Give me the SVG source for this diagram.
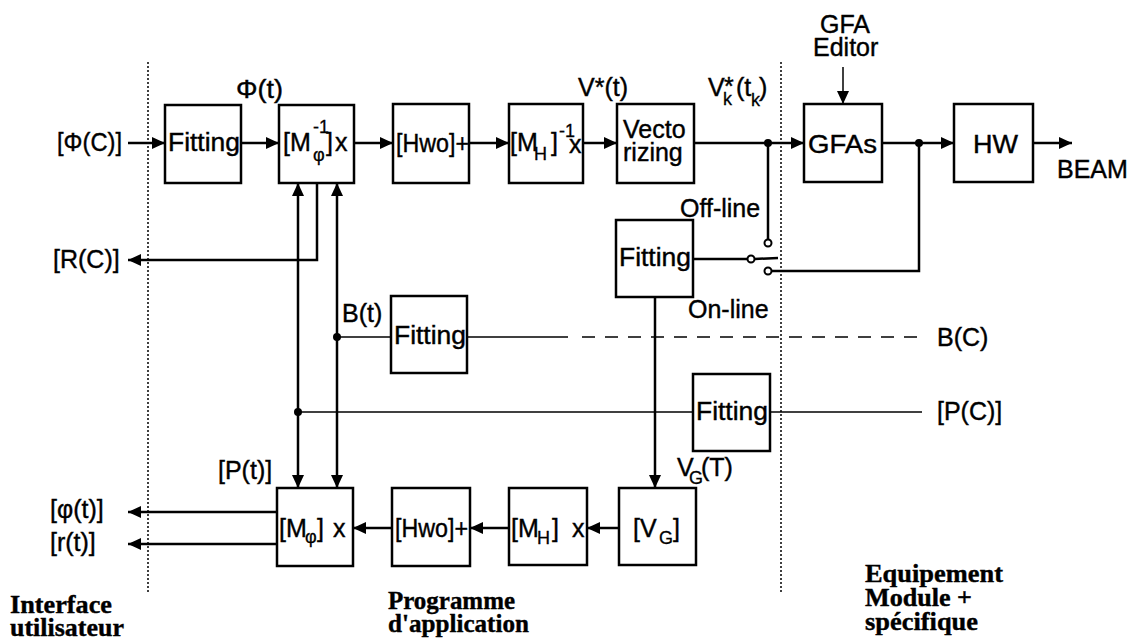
<svg xmlns="http://www.w3.org/2000/svg" width="1135" height="643" viewBox="0 0 1135 643">
<defs>
<marker id="ah" markerUnits="userSpaceOnUse" markerWidth="14" markerHeight="12" refX="13" refY="6" orient="auto-start-reverse">
<path d="M0,0 L13,6 L0,12 z" fill="#000"/>
</marker>
<style>
.box{fill:#fff;stroke:#000;stroke-width:2.5}
.t{font-family:"Liberation Sans",Arial,sans-serif;font-size:25px;fill:#000;stroke:#000;stroke-width:0.4}
.s{font-family:"Liberation Sans",Arial,sans-serif;font-size:18px;fill:#000;stroke:#000;stroke-width:0.3}
.b{font-family:"Liberation Serif","Times New Roman",serif;font-size:26px;font-weight:bold;fill:#000;stroke:#000;stroke-width:0.4}
.w{fill:none;stroke:#000;stroke-width:2.5}
.th{fill:none;stroke:#000;stroke-width:1.5}
.a{marker-end:url(#ah)}
.ab{marker-start:url(#ah);marker-end:url(#ah)}
.dot{fill:#000}
.ring{fill:#fff;stroke:#000;stroke-width:2}
.sep{fill:none;stroke:#000;stroke-width:1.5;stroke-dasharray:2 2}
</style>
</defs>
<rect width="1135" height="643" fill="#fff"/>

<g id="separators">
<line class="sep" x1="148" y1="62" x2="148" y2="592"/>
<line class="sep" x1="781" y1="62" x2="781" y2="592"/>
</g>

<g id="connectors">
<path class="w a" d="M128,143 H165"/>
<path class="w a" d="M241,143 H279"/>
<path class="w a" d="M354,143 H393"/>
<path class="w a" d="M469,143 H509"/>
<path class="w a" d="M583,143 H617"/>
<path class="w a" d="M694,143 H804"/>
<path class="w a" d="M882,143 H954"/>
<path class="w a" d="M1033,143 H1072"/>
<path class="th a" d="M843,67 V104"/>
<path class="w" d="M768,143 V239.5"/>
<path class="w" d="M693,259 H747.5"/>
<path class="w" d="M754.5,259 L778,258"/>
<path class="w" d="M771.5,271 H919 V143"/>
<path class="w a" d="M317,183 V260 H128"/>
<path class="w ab" d="M298,183 V488"/>
<path class="w ab" d="M337,183 V488"/>
<path class="th" d="M337,337 H391"/>
<path class="th" d="M467,337 H568"/>
<path class="th" d="M582,337 H920" stroke-dasharray="13 10"/>
<path class="th" d="M298,412 H693"/>
<path class="th" d="M770,412 H922"/>
<path class="w a" d="M655,297 V488"/>
<path class="w a" d="M619,528 H587"/>
<path class="w a" d="M509,528 H470"/>
<path class="w a" d="M392,528 H353"/>
<path class="w a" d="M277,512 H128"/>
<path class="w a" d="M277,544 H128"/>
<circle class="dot" cx="768" cy="143" r="4"/>
<circle class="dot" cx="919" cy="143" r="4"/>
<circle class="dot" cx="337" cy="337" r="4"/>
<circle class="dot" cx="298" cy="412" r="4"/>
<circle class="ring" cx="768" cy="243" r="3.5"/>
<circle class="ring" cx="751" cy="259" r="3.5"/>
<circle class="ring" cx="768" cy="271" r="3.5"/>
</g>

<g id="fitting-phi">
<rect class="box" x="165" y="105" width="76" height="78"/>
<text class="t" x="168" y="151" textLength="72" lengthAdjust="spacingAndGlyphs">Fitting</text>
</g>
<g id="mphi-inv">
<rect class="box" x="279" y="105" width="75" height="78"/>
<text class="t" x="283" y="151">[M</text>
<text class="s" x="313" y="133">-1</text>
<text class="s" x="313" y="161">φ</text>
<text class="t" x="326" y="151">]</text>
<text class="t" x="335" y="151">x</text>
</g>
<g id="hwo-top">
<rect class="box" x="393" y="104" width="76" height="79"/>
<text class="t" x="396" y="152" textLength="73" lengthAdjust="spacingAndGlyphs">[Hwo]+</text>
</g>
<g id="mh-inv">
<rect class="box" x="509" y="104" width="74" height="79"/>
<text class="t" x="510" y="151">[M</text>
<text class="s" x="534" y="160">H</text>
<text class="t" x="551" y="151">]</text>
<text class="s" x="559" y="137">-1</text>
<text class="t" x="569" y="153">x</text>
</g>
<g id="vectorizing">
<rect class="box" x="617" y="104" width="77" height="79"/>
<text class="t" x="623" y="138">Vecto</text>
<text class="t" x="623" y="161">rizing</text>
</g>
<g id="gfas">
<rect class="box" x="804" y="104" width="78" height="78"/>
<text class="t" x="808" y="153" textLength="69" lengthAdjust="spacingAndGlyphs">GFAs</text>
</g>
<g id="hw">
<rect class="box" x="954" y="104" width="79" height="78"/>
<text class="t" x="973" y="153" textLength="45" lengthAdjust="spacingAndGlyphs">HW</text>
</g>
<g id="fitting-offline">
<rect class="box" x="616" y="220" width="77" height="77"/>
<text class="t" x="619" y="266" textLength="72" lengthAdjust="spacingAndGlyphs">Fitting</text>
</g>
<g id="fitting-b">
<rect class="box" x="391" y="296" width="76" height="77"/>
<text class="t" x="394" y="344" textLength="72" lengthAdjust="spacingAndGlyphs">Fitting</text>
</g>
<g id="fitting-p">
<rect class="box" x="693" y="374" width="77" height="77"/>
<text class="t" x="696" y="420" textLength="72" lengthAdjust="spacingAndGlyphs">Fitting</text>
</g>
<g id="mphi">
<rect class="box" x="277" y="488" width="76" height="78"/>
<text class="t" x="279" y="537">[M</text>
<text class="s" x="305" y="543">φ</text>
<text class="t" x="317" y="537">]</text>
<text class="t" x="333" y="537">x</text>
</g>
<g id="hwo-bottom">
<rect class="box" x="392" y="488" width="78" height="78"/>
<text class="t" x="395" y="537" textLength="73" lengthAdjust="spacingAndGlyphs">[Hwo]+</text>
</g>
<g id="mh">
<rect class="box" x="509" y="488" width="78" height="77"/>
<text class="t" x="511" y="537">[M</text>
<text class="s" x="537" y="544">H</text>
<text class="t" x="552" y="537">]</text>
<text class="t" x="572" y="537">x</text>
</g>
<g id="vg">
<rect class="box" x="619" y="488" width="77" height="77"/>
<text class="t" x="633" y="537">[V</text>
<text class="s" x="659" y="544">G</text>
<text class="t" x="673" y="537">]</text>
</g>

<g id="labels">
<text class="t" x="57" y="151" textLength="65" lengthAdjust="spacingAndGlyphs">[Φ(C)]</text>
<text class="t" x="236" y="98" textLength="47" lengthAdjust="spacingAndGlyphs">Φ(t)</text>
<text class="t" x="53" y="268">[R(C)]</text>
<text class="t" x="578" y="96">V*(t)</text>
<text class="t" x="708" y="96">V</text>
<text class="t" x="724" y="95">*</text>
<text class="s" x="723" y="105">k</text>
<text class="t" x="736" y="96">(t</text>
<text class="s" x="751" y="106">k</text>
<text class="t" x="759" y="96">)</text>
<text class="t" x="820" y="33">GFA</text>
<text class="t" x="813" y="56">Editor</text>
<text class="t" x="1057" y="178">BEAM</text>
<text class="t" x="680" y="217">Off-line</text>
<text class="t" x="688" y="318">On-line</text>
<text class="t" x="342" y="322">B(t)</text>
<text class="t" x="937" y="346">B(C)</text>
<text class="t" x="937" y="420">[P(C)]</text>
<text class="t" x="218" y="479">[P(t)]</text>
<text class="t" x="677" y="476">V</text>
<text class="s" x="689" y="484">G</text>
<text class="t" x="701" y="476">(T)</text>
<text class="t" x="50" y="518">[φ(t)]</text>
<text class="t" x="50" y="551">[r(t)]</text>
<text class="b" x="10" y="613" textLength="102" lengthAdjust="spacingAndGlyphs">Interface</text>
<text class="b" x="10" y="636" textLength="114" lengthAdjust="spacingAndGlyphs">utilisateur</text>
<text class="b" x="388" y="609" textLength="127" lengthAdjust="spacingAndGlyphs">Programme</text>
<text class="b" x="388" y="632" textLength="141" lengthAdjust="spacingAndGlyphs">d'application</text>
<text class="b" x="865" y="582" textLength="138" lengthAdjust="spacingAndGlyphs">Equipement</text>
<text class="b" x="865" y="606" textLength="107" lengthAdjust="spacingAndGlyphs">Module +</text>
<text class="b" x="865" y="630" textLength="113" lengthAdjust="spacingAndGlyphs">spécifique</text>
</g>
</svg>
